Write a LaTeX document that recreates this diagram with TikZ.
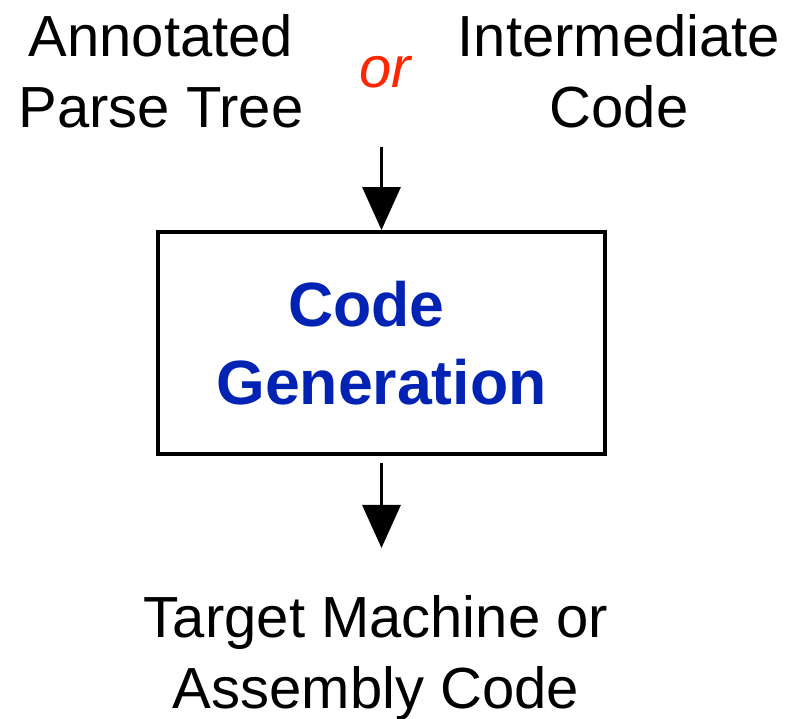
\documentclass[tikz,border=0pt]{standalone}
\usepackage{fontspec}
\setmainfont{Liberation Sans}
\usepackage{tikz}
\usetikzlibrary{positioning}
\usetikzlibrary{arrows.meta}
\usepackage{xcolor}

\definecolor{genblue}{RGB}{0,35,180}
\definecolor{orred}{RGB}{255,38,0}

\begin{document}
\begin{tikzpicture}[
    lbl/.style={align=center, inner sep=0pt, anchor=base, font=\fontsize{16.5pt}{20.3pt}\selectfont},
    genbox/.style={draw=black, line width=1.1pt, minimum width=4.47cm, minimum height=2.22cm, align=center, text=genblue, font=\fontsize{17.8pt}{22.2pt}\selectfont\bfseries},
    flow/.style={-{Triangle[length=0.43cm, width=0.38cm]}, line width=0.9pt}
    ]

\useasboundingbox (0,0) rectangle (7.87,7.19);

% box
\node[genbox] (gen) at (3.815,3.76) {Code\hspace*{0.3cm}\\Generation};

% nodes (base = last line)
{
\node[lbl] (tree) at (1.61,5.91) {Annotated\\Parse Tree};
\node[lbl] (inter) at (6.19,5.91) {Intermediate\\Code};
\node[lbl, text=orred, font=\fontsize{16.5pt}{20.3pt}\selectfont\itshape] (or) at (3.855,6.31) {or};

\node[lbl] (target) at (3.76,0.10) {Target Machine or\\Assembly Code};
}

%arrows
{
\coordinate (in) at (3.815,5.72);
\coordinate (out) at (3.815,1.71);

\draw[flow] (in) -- (gen.north);
\draw[flow, shorten <=0.07cm] (gen.south) -- (out);
}

\end{tikzpicture}
\end{document}
